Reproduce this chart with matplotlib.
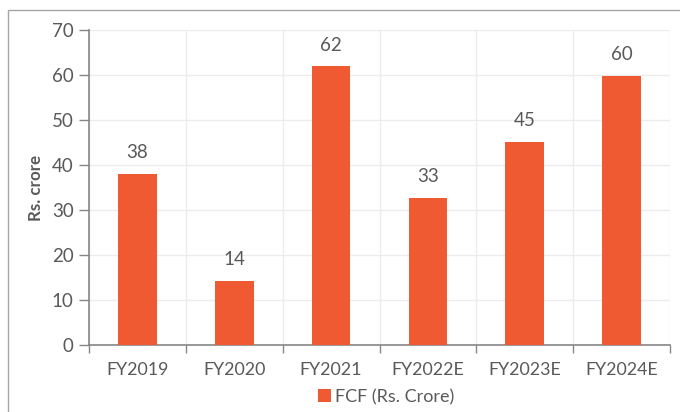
import matplotlib.pyplot as plt
from matplotlib.patches import Rectangle

years = ['FY2019', 'FY2020', 'FY2021', 'FY2022E', 'FY2023E', 'FY2024E']
fcf = [38.1, 14.3, 61.9, 32.7, 45.2, 59.8]

plt.rcParams['font.family'] = ['Lato', 'DejaVu Sans']
grey = '#595959'
bar_color = '#F05A32'

fig = plt.figure(figsize=(6.8, 4.12), dpi=100)
ax = fig.add_axes([89 / 680, 1 - 345 / 412, 581 / 680, 315 / 412])

# outer chart frame
fig.patches.append(Rectangle((8 / 680, -0.1), 1.0, 1 - 10 / 412 + 0.1,
                             transform=fig.transFigure, fill=False,
                             edgecolor='#a6a6a6', linewidth=1.0))

x = list(range(len(years)))
bars = ax.bar(x, fcf, width=0.4, color=bar_color, zorder=3, label='FCF (Rs. Crore)')
for b, v in zip(bars, fcf):
    ax.text(b.get_x() + b.get_width() / 2, v + 2.8, f'{v:.0f}',
            ha='center', va='bottom', fontsize=13.5, color=grey)

ax.set_xlim(-0.5, len(years) - 0.5)
ax.set_ylim(0, 70)
ax.set_yticks(range(0, 71, 10))
ax.set_xticks(x)
ax.set_xticklabels(years)
ax.tick_params(axis='x', length=0, pad=12, labelsize=12.8, labelcolor=grey)
ax.tick_params(axis='y', length=7, width=1, color='#868686', pad=4,
               labelsize=13.5, labelcolor=grey)

# gridlines at category boundaries and value steps
ax.set_xticks([i - 0.5 for i in range(len(years) + 1)], minor=True)
ax.tick_params(axis='x', which='minor', length=6, width=1, color='#868686')
ax.grid(axis='x', which='minor', color='#ececec', linewidth=1, zorder=0)
ax.grid(axis='y', which='major', color='#ececec', linewidth=1, zorder=0)

for side in ['top', 'right']:
    ax.spines[side].set_visible(False)
for side in ['left', 'bottom']:
    ax.spines[side].set_color('#868686')
    ax.spines[side].set_linewidth(1.2)

ax.set_ylabel('Rs. crore', fontsize=12.2, fontweight='bold', color=grey, labelpad=6)

fig.legend(loc='center', bbox_to_anchor=(386 / 680, 1 - 397 / 412), frameon=False,
           fontsize=13, labelcolor=grey, handlelength=0.75, handleheight=0.75,
           handletextpad=0.2)

fig.savefig('out.png', dpi=100)
